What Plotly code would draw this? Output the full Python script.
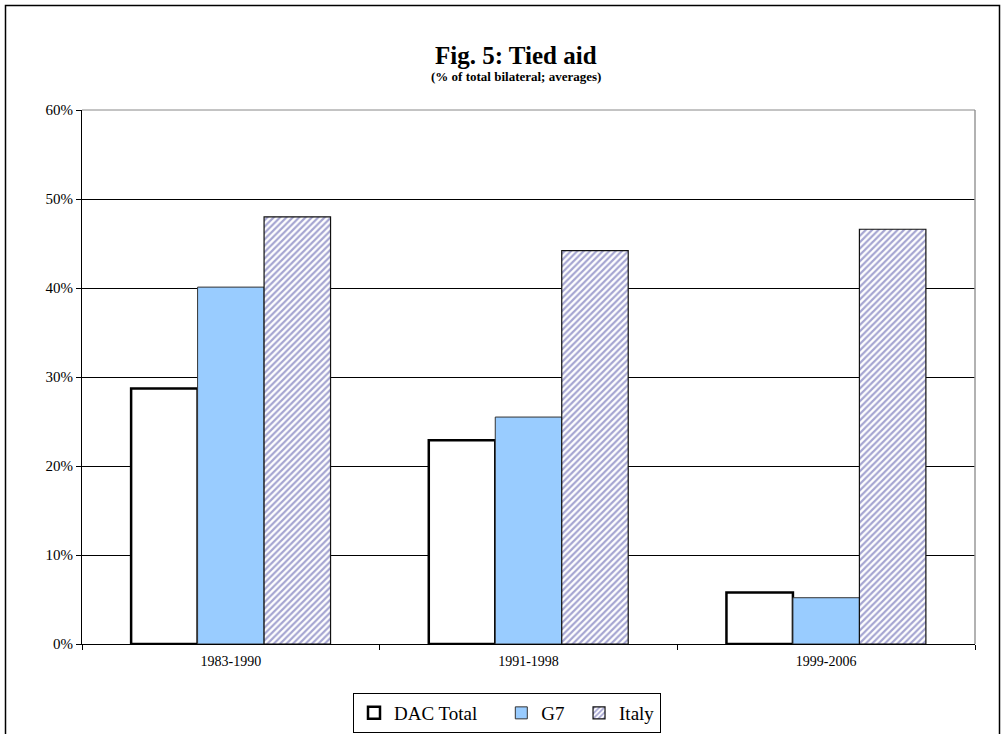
import plotly.graph_objects as go

categories = ["1983-1990", "1991-1998", "1999-2006"]
series_names = ["DAC Total", "G7", "Italy"]
dac_total = [28.7, 22.9, 5.8]
g7 = [40.1, 25.5, 5.2]
italy = [48.0, 44.2, 46.6]
y_ticks = [0, 10, 20, 30, 40, 50, 60]
y_tick_labels = ["0%", "10%", "20%", "30%", "40%", "50%", "60%"]

FONT = "Liberation Serif, Times New Roman, serif"
NB = "\u00a0"  # spacing padding in legend entries

W, H = 1001, 734
L, R, T, B = 82, 975, 110, 644

fig = go.Figure()
fig.add_trace(go.Bar(
    name=series_names[0] + NB * 4, x=categories, y=dac_total,
    marker=dict(color="white", line=dict(color="black", width=2.5)),
))
fig.add_trace(go.Bar(
    name=series_names[1] + NB * 2, x=categories, y=g7,
    marker=dict(color="#99ccff", line=dict(color="#333333", width=1)),
))
fig.add_trace(go.Bar(
    name=series_names[2], x=categories, y=italy,
    marker=dict(color="white", line=dict(color="#111111", width=1.2),
                pattern=dict(shape="/", fgcolor="#4b4ba3", bgcolor="white",
                             size=4.5, solidity=0.48, fillmode="overlay")),
))

def px_x(p):
    return (p - L) / (R - L)

def px_y(p):
    return (B - p) / (B - T)

fig.update_layout(
    width=W, height=H,
    margin=dict(l=L, r=W - R, t=T, b=H - B, autoexpand=False),
    paper_bgcolor="white", plot_bgcolor="white",
    barmode="group", bargap=0.33, bargroupgap=0,
    font=dict(family=FONT, color="black", size=14),
    showlegend=True,
    legend=dict(
        orientation="h", x=px_x(353), y=px_y(693), xanchor="left", yanchor="top",
        bordercolor="black", borderwidth=1, bgcolor="white",
        font=dict(family=FONT, size=19, color="black"),
        itemwidth=30, tracegroupgap=0,
    ),
    xaxis=dict(
        showline=True, linecolor="black", linewidth=1,
        ticks="outside", ticklen=5, tickcolor="black", tickson="boundaries",
        tickfont=dict(family=FONT, size=14, color="black"),
        ticklabelstandoff=4,
        showgrid=False, automargin=False,
    ),
    yaxis=dict(
        range=[0, 60], tickvals=y_ticks, ticktext=y_tick_labels,
        showline=True, linecolor="black", linewidth=1,
        ticks="outside", ticklen=5, tickcolor="black",
        showgrid=True, gridcolor="black", gridwidth=1,
        zeroline=False, automargin=False,
        tickfont=dict(family=FONT, size=15, color="black"),
    ),
    annotations=[
        dict(text="<b>Fig. 5: Tied aid</b>", xref="paper", yref="paper",
             x=px_x(516), y=px_y(56), xanchor="center", yanchor="middle",
             showarrow=False, font=dict(family=FONT, size=25, color="black")),
        dict(text="<b>(% of total bilateral; averages)</b>", xref="paper", yref="paper",
             x=px_x(516), y=px_y(77), xanchor="center", yanchor="middle",
             showarrow=False, font=dict(family=FONT, size=13, color="black")),
    ],
    shapes=[
        dict(type="rect", xref="paper", yref="paper",
             x0=px_x(5.5), x1=px_x(999.5), y0=px_y(760), y1=px_y(5.5),
             line=dict(color="black", width=1.5), fillcolor="rgba(0,0,0,0)", layer="below"),
        dict(type="line", xref="paper", yref="paper", x0=1, x1=1, y0=0, y1=1,
             line=dict(color="#999999", width=1.5)),
        dict(type="line", xref="paper", yref="paper", x0=0, x1=1, y0=1, y1=1,
             line=dict(color="#888888", width=1)),
    ],
)

fig.write_html("out.html", config={"displayModeBar": False},
               post_script="document.body.style.margin='0';")
